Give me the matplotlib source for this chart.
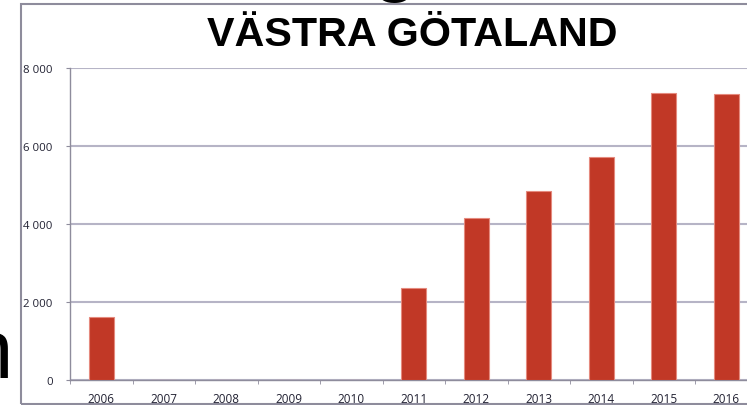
import matplotlib
matplotlib.use("Agg")
import matplotlib.pyplot as plt
from matplotlib.patches import Rectangle
from matplotlib.ticker import FuncFormatter, FixedLocator

years = ["2006", "2007", "2008", "2009", "2010", "2011", "2012", "2013", "2014", "2015", "2016"]
values = [1610, 0, 0, 0, 0, 2360, 4150, 4850, 5720, 7360, 7330]
yticks = [0, 2000, 4000, 6000, 8000]
title = "VÄSTRA GÖTALAND"

W, H = 747, 406
fig = plt.figure(figsize=(W / 100, H / 100), dpi=100)

# outer frame
fig.patches.append(Rectangle((21 / W, 1 / H), 1.0, (400 / H), transform=fig.transFigure,
                             fill=False, edgecolor="#8e8c9c", linewidth=1.5, zorder=0))

ax = fig.add_axes([70 / W, 25 / H, 687.5 / W, 312 / H])
x = list(range(len(years)))
ax.bar(x, values, width=0.4, color="#c13826", edgecolor="#e58a7e", linewidth=0.8, zorder=3)

ax.set_xlim(-0.5, len(years) - 0.5)
ax.set_ylim(0, 8000)
ax.set_yticks(yticks)
ax.yaxis.set_major_formatter(FuncFormatter(lambda v, p: f"{int(v):,}".replace(",", " ")))
ax.set_xticks(x)
ax.set_xticklabels(years)
ax.xaxis.set_minor_locator(FixedLocator([i - 0.5 for i in range(len(years) + 1)]))

ax.grid(axis="y", color="#b6b4c6", linewidth=1.5, zorder=0)
for s in ["top", "right"]:
    ax.spines[s].set_visible(False)
for s in ["left", "bottom"]:
    ax.spines[s].set_color("#8e8c9c")
    ax.spines[s].set_linewidth(1.0)

ax.tick_params(axis="x", which="major", length=0, pad=9, labelsize=8.5, labelcolor="#222233")
ax.tick_params(axis="x", which="minor", length=3, direction="out", color="#8e8c9c")
ax.tick_params(axis="y", length=3, direction="out", color="#8e8c9c", pad=9.5,
               labelsize=8.2, labelcolor="#222233")
for lab in ax.get_xticklabels() + ax.get_yticklabels():
    lab.set_fontfamily("Open Sans")

fig.text(412 / W, (H - 46) / H, title, ha="center", va="baseline",
         fontsize=29.7, fontweight="bold", family="Liberation Sans", color="#000000")

# fragments of the slide text behind the chart
fig.text(13 / W, (H - 378) / H, "n", ha="right", va="baseline",
         fontsize=60, family="Liberation Sans", color="#000000")
fig.text(395 / W, (H + 14) / H, "g", ha="center", va="baseline",
         fontsize=60, family="Liberation Sans", color="#000000", zorder=0)

fig.savefig("out.png", dpi=100)
